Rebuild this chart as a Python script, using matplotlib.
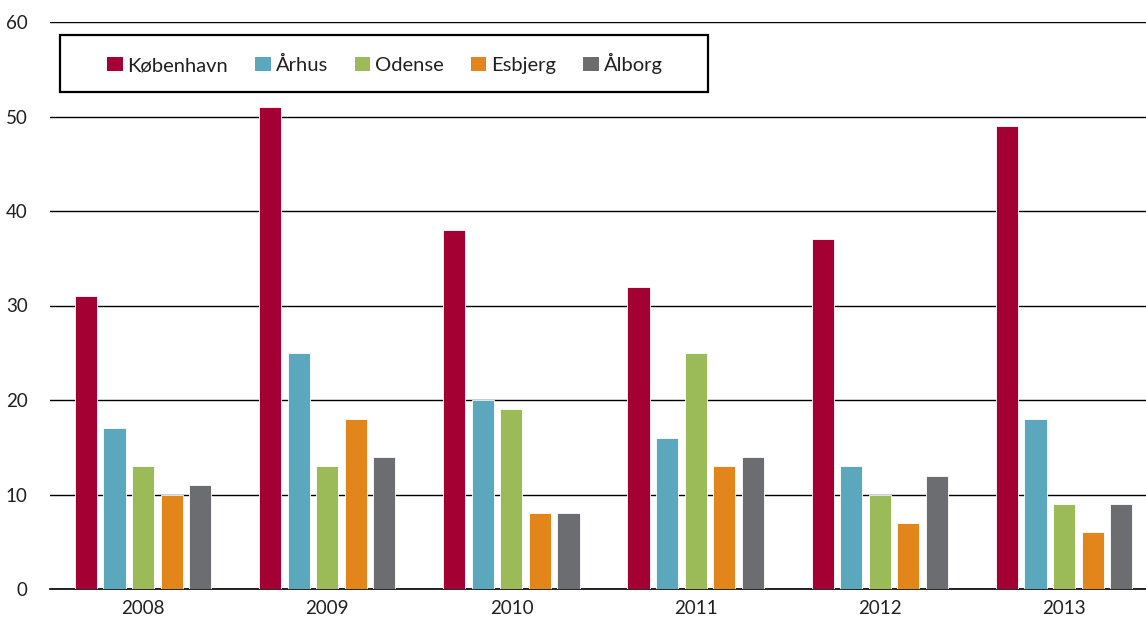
import matplotlib
matplotlib.use('Agg')
import matplotlib.pyplot as plt
import numpy as np
from matplotlib.patches import Patch, Rectangle

years = ['2008', '2009', '2010', '2011', '2012', '2013']
cities = ['København', 'Århus', 'Odense', 'Esbjerg', 'Ålborg']
kobenhavn = [31, 51, 38, 32, 37, 49]
aarhus = [17, 25, 20, 16, 13, 18]
odense = [13, 13, 19, 25, 10, 9]
esbjerg = [10, 18, 8, 13, 7, 6]
aalborg = [11, 14, 8, 14, 12, 9]
colors = ['#a50034', '#5ba7bd', '#9bbb59', '#e2861c', '#6c6d71']

plt.rcParams['font.family'] = ['Lato', 'DejaVu Sans']

fig = plt.figure(figsize=(11.46, 6.2), dpi=100)
ax = fig.add_axes([50 / 1146, 1 - 589 / 620, 1 - 50 / 1146, (589 - 22) / 620])

series = [kobenhavn, aarhus, odense, esbjerg, aalborg]
x = np.arange(len(years))
pitch = 0.155
width = 0.12
for i, vals in enumerate(series):
    ax.bar(x + (i - 2) * pitch, vals, width, color=colors[i], zorder=3,
           edgecolor='white', linewidth=0.6)

ax.set_xlim(-0.505, 5.445)
ax.set_ylim(0, 60)
ax.set_yticks(range(0, 61, 10))
ax.set_xticks(x)
ax.set_xticklabels(years)
ax.grid(True, axis='y', color='black', linewidth=1.0, zorder=0)
for s in ['top', 'right', 'left']:
    ax.spines[s].set_visible(False)
ax.spines['bottom'].set_linewidth(1.2)
ax.tick_params(axis='both', length=0, labelsize=13.5, colors='#231f20')
ax.tick_params(axis='y', pad=16)
ax.tick_params(axis='x', pad=8)

# legend box
fig.patches.append(Rectangle((60 / 1146, 1 - 92 / 620), 648 / 1146, 57 / 620,
                             transform=fig.transFigure, fill=True,
                             facecolor='white', edgecolor='black',
                             linewidth=1.6, zorder=5))
handles = [Patch(facecolor=c, edgecolor='none') for c in colors]
leg = fig.legend(handles, cities, loc='center',
                 bbox_to_anchor=((108 + 662) / 2 / 1146, 1 - 63.5 / 620),
                 ncol=5, frameon=False, fontsize=14.5, handlelength=0.75,
                 handleheight=0.75, handletextpad=0.25, columnspacing=1.35)
leg.set_zorder(6)
for t in leg.get_texts():
    t.set_color('#231f20')

fig.savefig('out.png', dpi=100)
